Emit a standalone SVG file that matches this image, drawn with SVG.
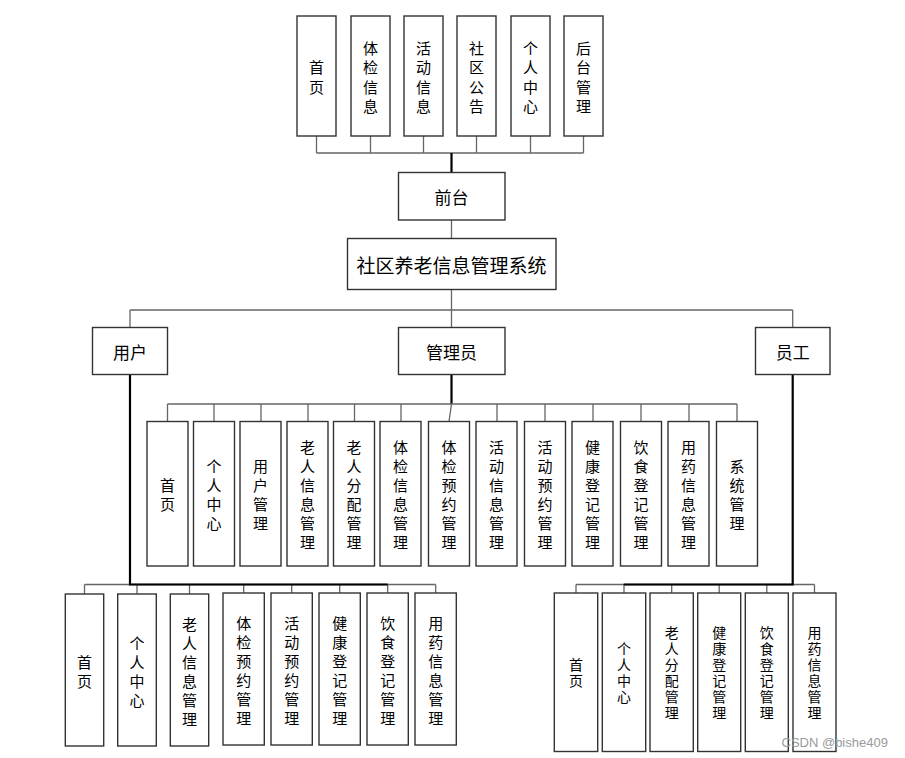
<svg xmlns="http://www.w3.org/2000/svg" width="905" height="758" viewBox="0 0 905 758">
<style>
.box{fill:#fff;stroke:#333;stroke-width:1.4}
.ln{stroke:#666;stroke-width:1.3;fill:none}
.thick{stroke:#000;stroke-width:2.2;fill:none}
.t{font-family:"Noto Sans CJK SC","Microsoft YaHei",sans-serif;font-size:15px;fill:#000;text-anchor:middle;dominant-baseline:central}
.v{font-family:"Noto Sans CJK SC","Microsoft YaHei",sans-serif;font-size:14px;fill:#000;text-anchor:middle;writing-mode:vertical-rl;letter-spacing:2px}
.m{font-size:17px}
.big{font-size:19px}
.wm{font-family:"Liberation Sans",Arial,sans-serif;font-size:13px;fill:#9a9a9a}
</style>
<rect width="905" height="758" fill="#fff"/>
<g id="connectors">
  <path class="ln" d="M316.5,136V153M370.5,136V153M423.5,136V153M476.5,136V153M530.5,136V153M583.5,136V153M316.5,153H583.5"/>
  <path class="thick" d="M451.5,153V172"/>
  <path class="ln" d="M451.5,220V238.5M451.5,289.5V310M130,310H792.7M130,310V327.5M451.5,310V327.5M792.7,310V327.5"/>
  <path class="thick" d="M451.5,375V404"/>
  <path class="ln" d="M167.5,404H737M167.5,404V421.5M214,404V421.5M261,404V421.5M308,404V421.5M354.5,404V421.5M401,404V421.5M451.5,404L449,421.5M497,404V421.5M545,404V421.5M593,404V421.5M641,404V421.5M689,404V421.5M737,404V421.5"/>
  <path class="ln" d="M84.5,584.5H435.7M84.5,584.5V594M137,584.5V594M189.5,584.5V594M243.7,584.5V593M291.7,584.5V593M339.7,584.5V593M387.7,584.5V593M435.7,584.5V593"/>
  <path class="thick" d="M130,375V584.5H387.7"/>
  <path class="ln" d="M576,584.5H814.5M576,584.5V593M624,584.5V593M671.7,584.5V593M719.2,584.5V593M766.8,584.5V593M814.5,584.5V593"/>
  <path class="thick" d="M792.7,375V584.5H623.7"/>
</g>

<g id="f-home"><rect class="box" x="297" y="16" width="39" height="120"/><text class="t"><tspan x="316.5" y="66.25">首</tspan><tspan x="316.5" y="85.75">页</tspan></text></g>
<g id="f-exam"><rect class="box" x="351" y="16" width="39" height="120"/><text class="t"><tspan x="370.5" y="46.75">体</tspan><tspan x="370.5" y="66.25">检</tspan><tspan x="370.5" y="85.75">信</tspan><tspan x="370.5" y="105.25">息</tspan></text></g>
<g id="f-activity"><rect class="box" x="404" y="16" width="39" height="120"/><text class="t"><tspan x="423.5" y="46.75">活</tspan><tspan x="423.5" y="66.25">动</tspan><tspan x="423.5" y="85.75">信</tspan><tspan x="423.5" y="105.25">息</tspan></text></g>
<g id="f-notice"><rect class="box" x="457" y="16" width="39" height="120"/><text class="t"><tspan x="476.5" y="46.75">社</tspan><tspan x="476.5" y="66.25">区</tspan><tspan x="476.5" y="85.75">公</tspan><tspan x="476.5" y="105.25">告</tspan></text></g>
<g id="f-personal"><rect class="box" x="511" y="16" width="39" height="120"/><text class="t"><tspan x="530.5" y="46.75">个</tspan><tspan x="530.5" y="66.25">人</tspan><tspan x="530.5" y="85.75">中</tspan><tspan x="530.5" y="105.25">心</tspan></text></g>
<g id="f-backend"><rect class="box" x="564" y="16" width="39" height="120"/><text class="t"><tspan x="583.5" y="46.75">后</tspan><tspan x="583.5" y="66.25">台</tspan><tspan x="583.5" y="85.75">管</tspan><tspan x="583.5" y="105.25">理</tspan></text></g>

<g id="frontend"><rect class="box" x="398.5" y="172.5" width="106.5" height="47.5"/><text class="t m" x="451.5" y="196">前台</text></g>
<g id="system"><rect class="box" x="347.5" y="238.5" width="208.5" height="51"/><text class="t big" x="451.5" y="264">社区养老信息管理系统</text></g>
<g id="user"><rect class="box" x="92.5" y="327.5" width="75" height="47"/><text class="t m" x="130" y="351">用户</text></g>
<g id="admin"><rect class="box" x="398.5" y="327.5" width="106.5" height="47"/><text class="t m" x="451.5" y="351">管理员</text></g>
<g id="staff"><rect class="box" x="755.5" y="327.5" width="74.5" height="47"/><text class="t m" x="792.7" y="351">员工</text></g>

<g id="a-home"><rect class="box" x="147" y="421.5" width="41" height="144.5"/><text class="t"><tspan x="167.5" y="484">首</tspan><tspan x="167.5" y="503">页</tspan></text></g>
<g id="a-personal"><rect class="box" x="193.5" y="421.5" width="41" height="144.5"/><text class="t"><tspan x="214" y="465">个</tspan><tspan x="214" y="484">人</tspan><tspan x="214" y="503">中</tspan><tspan x="214" y="522">心</tspan></text></g>
<g id="a-user"><rect class="box" x="240" y="421.5" width="41" height="144.5"/><text class="t"><tspan x="260.5" y="465">用</tspan><tspan x="260.5" y="484">户</tspan><tspan x="260.5" y="503">管</tspan><tspan x="260.5" y="522">理</tspan></text></g>
<g id="a-elder"><rect class="box" x="287" y="421.5" width="41" height="144.5"/><text class="t"><tspan x="307.5" y="446">老</tspan><tspan x="307.5" y="465">人</tspan><tspan x="307.5" y="484">信</tspan><tspan x="307.5" y="503">息</tspan><tspan x="307.5" y="522">管</tspan><tspan x="307.5" y="541">理</tspan></text></g>
<g id="a-assign"><rect class="box" x="333.5" y="421.5" width="41" height="144.5"/><text class="t"><tspan x="354" y="446">老</tspan><tspan x="354" y="465">人</tspan><tspan x="354" y="484">分</tspan><tspan x="354" y="503">配</tspan><tspan x="354" y="522">管</tspan><tspan x="354" y="541">理</tspan></text></g>
<g id="a-exam"><rect class="box" x="380" y="421.5" width="41" height="144.5"/><text class="t"><tspan x="400.5" y="446">体</tspan><tspan x="400.5" y="465">检</tspan><tspan x="400.5" y="484">信</tspan><tspan x="400.5" y="503">息</tspan><tspan x="400.5" y="522">管</tspan><tspan x="400.5" y="541">理</tspan></text></g>
<g id="a-exambook"><rect class="box" x="428.5" y="421.5" width="41" height="144.5"/><text class="t"><tspan x="449" y="446">体</tspan><tspan x="449" y="465">检</tspan><tspan x="449" y="484">预</tspan><tspan x="449" y="503">约</tspan><tspan x="449" y="522">管</tspan><tspan x="449" y="541">理</tspan></text></g>
<g id="a-activity"><rect class="box" x="476" y="421.5" width="41" height="144.5"/><text class="t"><tspan x="496.5" y="446">活</tspan><tspan x="496.5" y="465">动</tspan><tspan x="496.5" y="484">信</tspan><tspan x="496.5" y="503">息</tspan><tspan x="496.5" y="522">管</tspan><tspan x="496.5" y="541">理</tspan></text></g>
<g id="a-actbook"><rect class="box" x="524.5" y="421.5" width="41" height="144.5"/><text class="t"><tspan x="545" y="446">活</tspan><tspan x="545" y="465">动</tspan><tspan x="545" y="484">预</tspan><tspan x="545" y="503">约</tspan><tspan x="545" y="522">管</tspan><tspan x="545" y="541">理</tspan></text></g>
<g id="a-health"><rect class="box" x="572" y="421.5" width="41" height="144.5"/><text class="t"><tspan x="592.5" y="446">健</tspan><tspan x="592.5" y="465">康</tspan><tspan x="592.5" y="484">登</tspan><tspan x="592.5" y="503">记</tspan><tspan x="592.5" y="522">管</tspan><tspan x="592.5" y="541">理</tspan></text></g>
<g id="a-diet"><rect class="box" x="620.5" y="421.5" width="41" height="144.5"/><text class="t"><tspan x="641" y="446">饮</tspan><tspan x="641" y="465">食</tspan><tspan x="641" y="484">登</tspan><tspan x="641" y="503">记</tspan><tspan x="641" y="522">管</tspan><tspan x="641" y="541">理</tspan></text></g>
<g id="a-med"><rect class="box" x="668" y="421.5" width="41" height="144.5"/><text class="t"><tspan x="688.5" y="446">用</tspan><tspan x="688.5" y="465">药</tspan><tspan x="688.5" y="484">信</tspan><tspan x="688.5" y="503">息</tspan><tspan x="688.5" y="522">管</tspan><tspan x="688.5" y="541">理</tspan></text></g>
<g id="a-system"><rect class="box" x="716.5" y="421.5" width="41" height="144.5"/><text class="t"><tspan x="737" y="465">系</tspan><tspan x="737" y="484">统</tspan><tspan x="737" y="503">管</tspan><tspan x="737" y="522">理</tspan></text></g>

<g id="u-home"><rect class="box" x="65.3" y="594" width="38.4" height="152"/><text class="t"><tspan x="84.5" y="660.5">首</tspan><tspan x="84.5" y="679.5">页</tspan></text></g>
<g id="u-personal"><rect class="box" x="117.7" y="594" width="38.6" height="152"/><text class="t"><tspan x="137" y="641.5">个</tspan><tspan x="137" y="660.5">人</tspan><tspan x="137" y="679.5">中</tspan><tspan x="137" y="698.5">心</tspan></text></g>
<g id="u-elder"><rect class="box" x="170.3" y="594" width="38.4" height="152"/><text class="t"><tspan x="189.5" y="622.5">老</tspan><tspan x="189.5" y="641.5">人</tspan><tspan x="189.5" y="660.5">信</tspan><tspan x="189.5" y="679.5">息</tspan><tspan x="189.5" y="698.5">管</tspan><tspan x="189.5" y="717.5">理</tspan></text></g>
<g id="u-exambook"><rect class="box" x="223" y="593" width="41.3" height="152"/><text class="t"><tspan x="243.7" y="621.5">体</tspan><tspan x="243.7" y="640.5">检</tspan><tspan x="243.7" y="659.5">预</tspan><tspan x="243.7" y="678.5">约</tspan><tspan x="243.7" y="697.5">管</tspan><tspan x="243.7" y="716.5">理</tspan></text></g>
<g id="u-actbook"><rect class="box" x="271" y="593" width="41.3" height="152"/><text class="t"><tspan x="291.7" y="621.5">活</tspan><tspan x="291.7" y="640.5">动</tspan><tspan x="291.7" y="659.5">预</tspan><tspan x="291.7" y="678.5">约</tspan><tspan x="291.7" y="697.5">管</tspan><tspan x="291.7" y="716.5">理</tspan></text></g>
<g id="u-health"><rect class="box" x="319" y="593" width="41.3" height="152"/><text class="t"><tspan x="339.7" y="621.5">健</tspan><tspan x="339.7" y="640.5">康</tspan><tspan x="339.7" y="659.5">登</tspan><tspan x="339.7" y="678.5">记</tspan><tspan x="339.7" y="697.5">管</tspan><tspan x="339.7" y="716.5">理</tspan></text></g>
<g id="u-diet"><rect class="box" x="367" y="593" width="41.3" height="152"/><text class="t"><tspan x="387.7" y="621.5">饮</tspan><tspan x="387.7" y="640.5">食</tspan><tspan x="387.7" y="659.5">登</tspan><tspan x="387.7" y="678.5">记</tspan><tspan x="387.7" y="697.5">管</tspan><tspan x="387.7" y="716.5">理</tspan></text></g>
<g id="u-med"><rect class="box" x="415" y="593" width="41.3" height="152"/><text class="t"><tspan x="435.7" y="621.5">用</tspan><tspan x="435.7" y="640.5">药</tspan><tspan x="435.7" y="659.5">信</tspan><tspan x="435.7" y="678.5">息</tspan><tspan x="435.7" y="697.5">管</tspan><tspan x="435.7" y="716.5">理</tspan></text></g>

<g id="s-home"><rect class="box" x="554.3" y="593" width="43.4" height="158.5"/><text class="v" x="576" y="673.5">首页</text></g>
<g id="s-personal"><rect class="box" x="602.3" y="593" width="43.4" height="158.5"/><text class="v" x="624" y="673.5">个人中心</text></g>
<g id="s-assign"><rect class="box" x="650" y="593" width="43.3" height="158.5"/><text class="v" x="671.7" y="673.5">老人分配管理</text></g>
<g id="s-health"><rect class="box" x="697.7" y="593" width="43" height="158.5"/><text class="v" x="719.2" y="673.5">健康登记管理</text></g>
<g id="s-diet"><rect class="box" x="745.3" y="593" width="43" height="158.5"/><text class="v" x="766.8" y="673.5">饮食登记管理</text></g>
<g id="s-med"><rect class="box" x="793" y="593" width="43" height="158.5"/><text class="v" x="814.5" y="673.5">用药信息管理</text></g>

<text class="wm" x="781.5" y="746.5">CSDN @bishe409</text>
</svg>
